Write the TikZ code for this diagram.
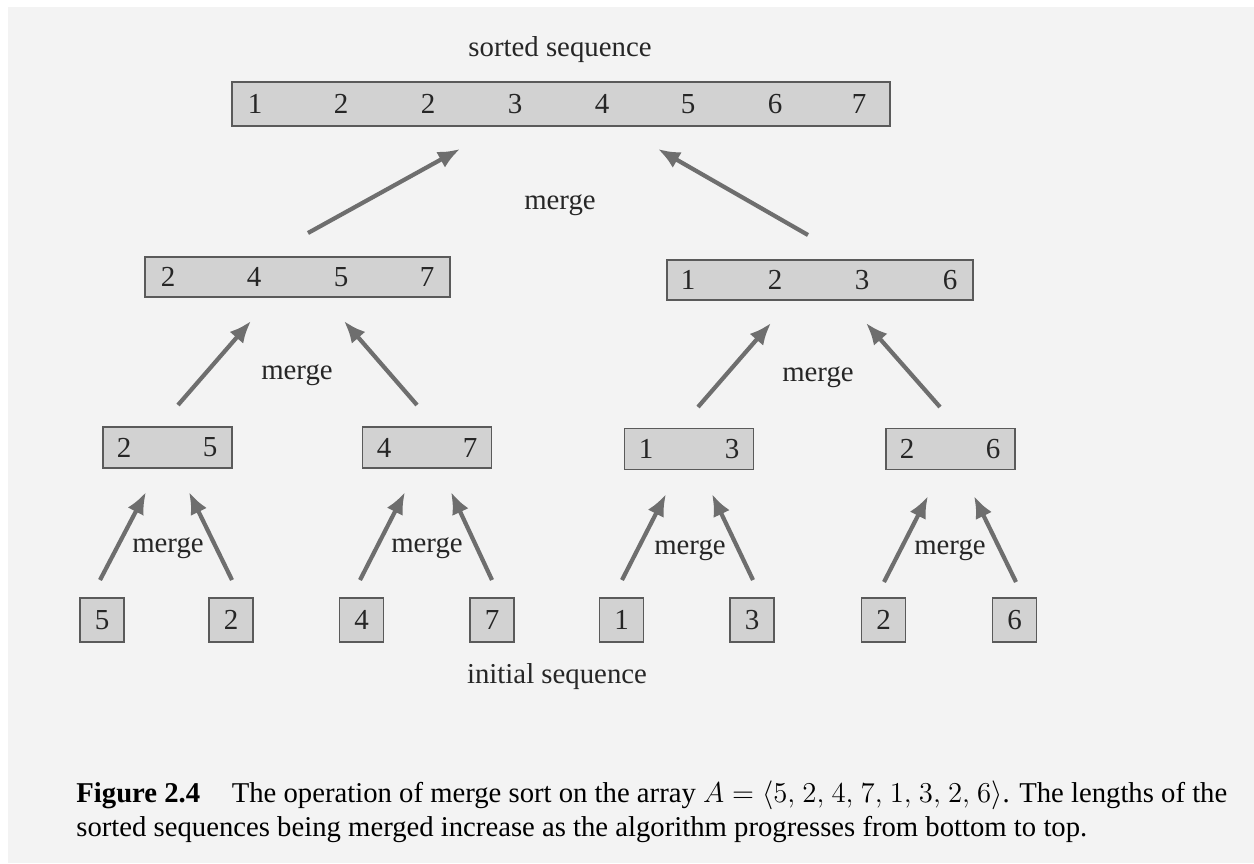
\documentclass[tikz,border=0pt]{standalone}
\usepackage{fontspec}
\setmainfont{Liberation Serif}
\usetikzlibrary{arrows.meta}
\definecolor{bg}{HTML}{F3F3F3}
\definecolor{boxfill}{HTML}{D2D2D2}
\definecolor{boxline}{HTML}{5A5A5A}
\definecolor{arrcol}{HTML}{6E6E6E}
\begin{document}
\begin{tikzpicture}[x=0.5pt,y=-0.5pt,
  box/.style={draw=boxline,line width=0.9pt,fill=boxfill,inner sep=0pt},
  num/.style={inner sep=0pt,font=\fontsize{14.5}{17}\selectfont,text=black!85},
  lbl/.style={inner sep=0pt,font=\fontsize{14.4}{17}\selectfont,text=black!85},
  captext/.style={anchor=west,inner sep=0pt,font=\fontsize{14.35}{17}\selectfont},
  arr/.style={draw=arrcol,line width=2.1pt,-{Latex[length=11pt,width=9pt]}}]
\useasboundingbox (0,0) rectangle (1254,863);
\fill[white] (0,0) rectangle (1254,863);
\fill[bg] (8,7) rectangle (1254,863);
% top
\node[lbl] (sorted) at (560,50) {sorted sequence};
\node[box,minimum width=329pt,minimum height=22pt] (top) at (561,104) {};
\foreach \v/\x [count=\i] in {1/255,2/341,2/428,3/515,4/602,5/688,6/775,7/859}
  \node[num] (t\i) at (\x,104) {\v};
% level 2
\node[box,minimum width=152.5pt,minimum height=20pt] (ml) at (297.5,277) {};
\foreach \v/\x [count=\i] in {2/168,4/254,5/341,7/427}
  \node[num] (ml\i) at (\x,277) {\v};
\node[box,minimum width=153pt,minimum height=20pt] (mr) at (820,280) {};
\foreach \v/\x [count=\i] in {1/688,2/775,3/862,6/950}
  \node[num] (mr\i) at (\x,280) {\v};
% level 3
\node[box,minimum width=64.5pt,minimum height=20.5pt] (q1) at (167.5,447.5) {};
\node[num] (q1a) at (124,447.5) {2}; \node[num] (q1b) at (210,447.5) {5};
\node[box,minimum width=64.5pt,minimum height=20.5pt] (q2) at (427,447.5) {};
\node[num] (q2a) at (384,447.5) {4}; \node[num] (q2b) at (470,447.5) {7};
\node[box,minimum width=64.5pt,minimum height=20.5pt] (q3) at (689,449) {};
\node[num] (q3a) at (646,449) {1}; \node[num] (q3b) at (732,449) {3};
\node[box,minimum width=64.5pt,minimum height=20.5pt] (q4) at (950.5,449) {};
\node[num] (q4a) at (907,449) {2}; \node[num] (q4b) at (993,449) {6};
% leaves
\foreach \v/\x [count=\i] in {5/102,2/231,4/361.5,7/492,1/621.5,3/752,2/883.5,6/1014.5}
  \node[box,num,minimum width=22pt,minimum height=22pt] (l\i) at (\x,620) {\v};
\node[lbl] (initial) at (557,677) {initial sequence};
% merge labels
\node[lbl] (g0) at (560,205) {merge};
\node[lbl] (g1) at (297,375) {merge};
\node[lbl] (g2) at (818,377) {merge};
\node[lbl] (g3) at (168,548) {merge};
\node[lbl] (g4) at (427,548) {merge};
\node[lbl] (g5) at (690,550) {merge};
\node[lbl] (g6) at (950,550) {merge};
% arrow endpoints
\coordinate (a1s) at (308,233); \coordinate (a1e) at (460,149);
\coordinate (a2s) at (808,235); \coordinate (a2e) at (658,149);
\coordinate (b1s) at (178,405); \coordinate (b1e) at (251,321);
\coordinate (b2s) at (417,405); \coordinate (b2e) at (344,321);
\coordinate (b3s) at (698,407); \coordinate (b3e) at (771,323);
\coordinate (b4s) at (940,407); \coordinate (b4e) at (866,323);
\coordinate (c1s) at (100,580); \coordinate (c1e) at (146,492);
\coordinate (c2s) at (232,580); \coordinate (c2e) at (189,492);
\coordinate (c3s) at (360,580); \coordinate (c3e) at (405,492);
\coordinate (c4s) at (492,580); \coordinate (c4e) at (451,492);
\coordinate (c5s) at (622,580); \coordinate (c5e) at (666,494);
\coordinate (c6s) at (753,580); \coordinate (c6e) at (712,494);
\coordinate (c7s) at (884,582); \coordinate (c7e) at (928,496);
\coordinate (c8s) at (1016,582); \coordinate (c8e) at (974,496);
\foreach \a in {a1,a2,b1,b2,b3,b4,c1,c2,c3,c4,c5,c6,c7,c8}
  \draw[arr] (\a s) -- (\a e);
% caption
\node[captext] (cap1) at (76,795)
  {\textbf{Figure 2.4}\hspace{1.1em}The operation of merge sort on the array $A = \langle 5,\mkern1.5mu 2,\mkern1.5mu 4,\mkern1.5mu 7,\mkern1.5mu 1,\mkern1.5mu 3,\mkern1.5mu 2,\mkern1.5mu 6\rangle$. The lengths of the};
\node[captext] (cap2) at (76,829)
  {sorted sequences being merged increase as the algorithm progresses from bottom to top.};
\end{tikzpicture}
\end{document}
